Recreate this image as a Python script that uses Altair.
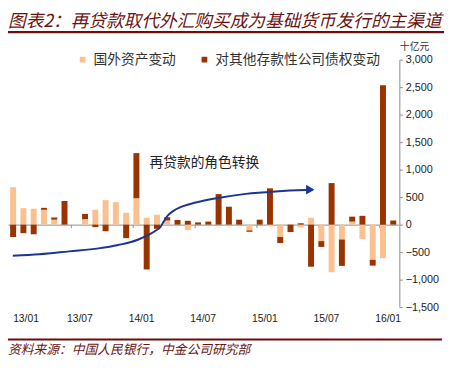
import altair as alt
import pandas as pd

months = ["13/01", "13/02", "13/03", "13/04", "13/05", "13/06", "13/07", "13/08", "13/09", "13/10", "13/11", "13/12",
          "14/01", "14/02", "14/03", "14/04", "14/05", "14/06", "14/07", "14/08", "14/09", "14/10", "14/11", "14/12",
          "15/01", "15/02", "15/03", "15/04", "15/05", "15/06", "15/07", "15/08", "15/09", "15/10", "15/11", "15/12",
          "16/01", "16/02"]
foreign_assets = [680, 300, 290, 270, 90, 0, 0, 100, 270, 445, 410, 215,
                  480, 125, 180, 75, 0, -100, 0, 0, 0, 0, 0, -105,
                  0, -30, -225, 0, -50, 125, -300, -865, -270, 55, -260, -640,
                  -610, 0]
claims_odc = [-225, -155, -175, 35, 40, 430, 0, 95, -45, -120, 0, -245,
              820, -815, -75, 60, 85, 70, 40, 55, 555, 325, 90, -25,
              90, 660, -110, -135, 25, -765, -105, 755, -480, 90, 160, -105,
              2535, 75]
series_names = ["国外资产变动", "对其他存款性公司债权变动"]
tick_labels = ["13/01", "13/07", "14/01", "14/07", "15/01", "15/07", "16/01"]
y_ticks = [-1500, -1000, -500, 0, 500, 1000, 1500, 2000, 2500, 3000]

# annotation arrow path in (month index, value) coordinates
arrow_idx = [-0.03, 2.58, 5.45, 8.31, 10.23, 12.14, 13.29, 13.86, 14.34, 14.67, 15.01, 15.58, 16.54, 17.88, 19.79, 22.65, 25.52, 28.39, 29.15]
arrow_val = [-566, -539, -486, -432, -370, -275, -173, -111, -39, 59, 157, 246, 336, 407, 479, 559, 604, 630, 634]
arrow_head = (28.92, 636)

title_text = "图表2：再贷款取代外汇购买成为基础货币发行的主渠道"
source_text = "资料来源：中国人民银行，中金公司研究部"
annot_text = "再贷款的角色转换"
unit_text = "十亿元"

LIGHT = "#FAC090"
DARK = "#993300"
RED = "#6b1414"
BLUE = "#1c3593"
CJK = "Noto Sans CJK SC"
LAT = "Liberation Sans"

rows = []
for i, m in enumerate(months):
    rows.append({"month": m, "series": series_names[0], "value": foreign_assets[i], "ord": 0})
    rows.append({"month": m, "series": series_names[1], "value": claims_odc[i], "ord": 1})
df = pd.DataFrame(rows)

W, H = 397.5, 252
ydom = [-1500, 3000]
step = W / len(months)
first = tick_labels[0]

bars = alt.Chart(df).mark_bar().encode(
    x=alt.X("month:N", sort=months,
            scale=alt.Scale(paddingInner=0.42, paddingOuter=0.21),
            axis=alt.Axis(values=tick_labels, bandPosition=0,
                          labelOffset={"condition": {"test": f"datum.value === '{first}'", "value": 0}, "value": step / 2},
                          labelAlign={"condition": {"test": f"datum.value === '{first}'", "value": "left"}, "value": "center"},
                          offset=-84, domainColor="#8c8c8c", tickColor="#8c8c8c",
                          tickSize=3, labelPadding=88, labelAngle=0, labelFont=LAT,
                          labelFontSize=10.5, labelColor="#222", title=None)),
    y=alt.Y("value:Q", stack="zero",
            scale=alt.Scale(domain=ydom, nice=False, zero=False),
            axis=alt.Axis(orient="right", values=y_ticks, format=",.0f", domainColor="#8c8c8c",
                          tickColor="#8c8c8c", tickSize=3, labelPadding=3, labelFont=LAT,
                          labelFontSize=11, labelColor="#222", title=None, grid=False, offset=1)),
    color=alt.Color("series:N",
                    scale=alt.Scale(domain=series_names, range=[LIGHT, DARK]),
                    legend=alt.Legend(orient="none", legendX=69, legendY=-7, direction="horizontal",
                                      title=None, symbolType="square", symbolSize=34,
                                      symbolStrokeWidth=0, labelFontSize=14, labelFont=CJK,
                                      labelColor="#333", columnPadding=22, labelOffset=4, padding=0,
                                      labelLimit=400)),
    order=alt.Order("ord:Q"),
)

arrow_df = pd.DataFrame({"idx": arrow_idx, "value": arrow_val})
xq = alt.Scale(domain=[-0.5, len(months) - 0.5], nice=False, zero=False)
yq = alt.Scale(domain=ydom, nice=False, zero=False)
arrow_line = alt.Chart(arrow_df).mark_line(color=BLUE, strokeWidth=2, interpolate="monotone").encode(
    x=alt.X("idx:Q", scale=xq, axis=None),
    y=alt.Y("value:Q", scale=yq, axis=None),
)
head_df = pd.DataFrame({"idx": [arrow_head[0]], "value": [arrow_head[1]]})
arrow_tip = alt.Chart(head_df).mark_point(shape="triangle-right", filled=True, color=BLUE, size=95, opacity=1).encode(
    x=alt.X("idx:Q", scale=xq, axis=None),
    y=alt.Y("value:Q", scale=yq, axis=None),
)
arrow = alt.layer(arrow_line, arrow_tip)

one = pd.DataFrame({"a": [0]})

def text_layer(txt, x, y, size, color, font=CJK, italic=False, align="left", weight="normal"):
    return alt.Chart(one).mark_text(
        align=align, baseline="middle", fontSize=size, font=font, color=color,
        fontStyle="italic" if italic else "normal", fontWeight=weight,
    ).encode(x=alt.value(x), y=alt.value(y), text=alt.value(txt))

def rule_layer(x1, x2, y, color, width):
    return alt.Chart(one).mark_rule(color=color, strokeWidth=width).encode(
        x=alt.value(x1), x2=alt.value(x2), y=alt.value(y))

title = text_layer(title_text, 0, -38, 18, RED, italic=True)
title_rule = rule_layer(0, 444, -28, "#6b0d0d", 2.5)
source_rule = rule_layer(0, 442, 285, "#6b0d0d", 2)
source = text_layer(source_text, 0, 296, 13, RED, italic=True)
unit = text_layer(unit_text, 414, -12.5, 10, "#333", align="center")
annot = text_layer(annot_text, 144, 105, 14, "#222")

chart = alt.layer(
    bars, arrow, title, title_rule, source_rule, source, unit, annot
).resolve_scale(x="independent", y="independent").properties(
    width=W, height=H,
    padding={"left": 0, "top": 49.3, "right": 49.5, "bottom": 58.7},
    autosize="none",
).configure_view(stroke=None).configure_axis(grid=False)

chart.save("out.html", embed_options={"renderer": "svg", "actions": False})
